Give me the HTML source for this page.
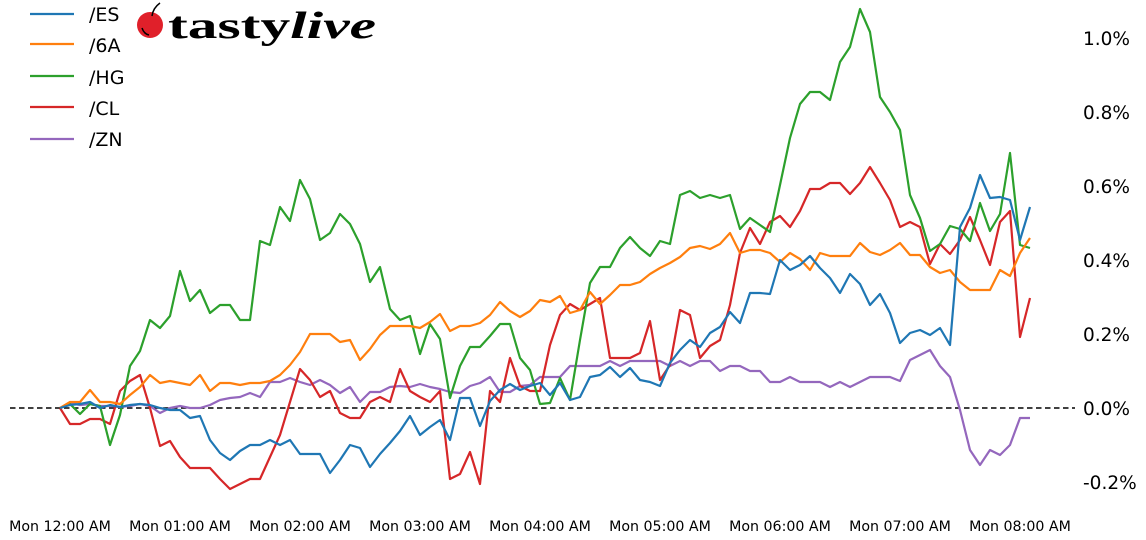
<!DOCTYPE html>
<html><head><meta charset="utf-8"><style>
html,body{margin:0;padding:0;background:#fff;}
svg{display:block;font-family:"DejaVu Sans","Liberation Sans",sans-serif;}
</style></head><body>
<svg width="1146" height="540" viewBox="0 0 1146 540" xmlns="http://www.w3.org/2000/svg">
<rect width="1146" height="540" fill="#fff"/>
<line x1="10" y1="408" x2="1075" y2="408" stroke="#000" stroke-width="1.5" stroke-dasharray="5.5,3.5"/>
<g fill="none" stroke-width="2.2" stroke-linejoin="round">
<polyline stroke="#9467bd" points="60,408 70,403 80,405 90,404 100,406 110,406 120,407 130,406 140,404 150,406 160,413 170,408 180,406 190,408 200,408 210,405 220,400 230,398 240,397 250,393 260,397 270,382 280,382 290,378 300,382 310,385 320,380 330,385 340,393 350,387 360,402 370,392 380,392 390,387 400,386 410,387 420,384 430,387 440,389 450,392 460,393 470,386 480,383 490,377 500,392 510,392 520,386 530,385 540,377 550,377 560,377 570,366 580,366 590,366 600,366 610,361 620,366 630,361 640,361 650,361 660,361 670,366 680,361 690,366 700,361 710,361 720,371 730,366 740,366 750,371 760,371 770,382 780,382 790,377 800,382 810,382 820,382 830,387 840,382 850,387 860,382 870,377 880,377 890,377 900,381 910,360 920,355 930,350 940,366 950,377 960,410 970,450 980,465 990,450 1000,455 1010,445 1020,418 1030,418"/>
<polyline stroke="#d62728" points="60,408 70,424 80,424 90,419 100,419 110,424 120,391 130,381 140,375 150,408 160,446 170,441 180,457 190,468 200,468 210,468 220,479 230,489 240,484 250,479 260,479 270,457 280,435 290,402 300,369 310,380 320,397 330,391 340,413 350,418 360,418 370,402 380,397 390,402 400,369 410,391 420,397 430,402 440,391 450,479 460,474 470,452 480,484 490,391 500,402 510,358 520,386 530,391 540,391 550,345 560,315 570,304 580,310 590,304 600,298 610,358 620,358 630,358 640,353 650,321 660,380 670,365 680,310 690,315 700,358 710,346 720,340 730,305 740,253 750,228 760,244 770,222 780,216 790,227 800,211 810,189 820,189 830,183 840,183 850,194 860,183 870,167 880,183 890,200 900,227 910,222 920,227 930,264 940,244 950,254 960,240 970,217 980,240 990,265 1000,222 1010,211 1020,337 1030,298"/>
<polyline stroke="#2ca02c" points="60,408 70,404 80,414 90,404 100,406 110,445 120,415 130,366 140,351 150,320 160,328 170,316 180,271 190,301 200,290 210,313 220,305 230,305 240,320 250,320 260,241 270,245 280,207 290,221 300,180 310,199 320,240 330,233 340,214 350,224 360,244 370,282 380,267 390,309 400,320 410,316 420,354 430,324 440,339 450,398 460,366 470,347 480,347 490,336 500,324 510,324 520,358 530,370 540,404 550,403 560,378 570,400 580,340 590,283 600,267 610,267 620,248 630,237 640,248 650,256 660,241 670,244 680,195 690,191 700,198 710,195 720,198 730,195 740,229 750,218 760,225 770,232 780,185 790,138 800,104 810,92 820,92 830,100 840,62 850,47 860,9 870,32 880,97 890,112 900,130 910,195 920,218 930,251 940,244 950,226 960,229 970,241 980,203 990,231 1000,214 1010,153 1020,245 1030,248"/>
<polyline stroke="#ff7f0e" points="60,408 70,402 80,402 90,390 100,402 110,402 120,404 130,395 140,387 150,375 160,383 170,381 180,383 190,385 200,375 210,391 220,383 230,383 240,385 250,383 260,383 270,381 280,375 290,365 300,352 310,334 320,334 330,334 340,342 350,340 360,360 370,349 380,335 390,326 400,326 410,326 420,328 430,322 440,314 450,331 460,326 470,326 480,323 490,315 500,302 510,311 520,317 530,311 540,300 550,302 560,296 570,313 580,310 590,292 600,304 610,295 620,285 630,285 640,282 650,274 660,268 670,263 680,257 690,248 700,246 710,249 720,244 730,233 740,253 750,250 760,250 770,253 780,262 790,253 800,259 810,270 820,253 830,256 840,256 850,256 860,243 870,252 880,255 890,250 900,243 910,255 920,255 930,267 940,273 950,270 960,282 970,290 980,290 990,290 1000,270 1010,276 1020,253 1030,238"/>
<polyline stroke="#1f77b4" points="60,408 70,405 80,404 90,402 100,408 110,405 120,407 130,405 140,404 150,405 160,408 170,410 180,410 190,418 200,416 210,440 220,453 230,460 240,451 250,445 260,445 270,440 280,445 290,440 300,454 310,454 320,454 330,473 340,460 350,445 360,448 370,467 380,454 390,443 400,431 410,416 420,435 430,427 440,420 450,440 460,398 470,398 480,426 490,401 500,390 510,384 520,390 530,386 540,383 550,395 560,383 570,400 580,397 590,377 600,375 610,367 620,377 630,368 640,380 650,382 660,386 670,363 680,350 690,340 700,347 710,333 720,327 730,312 740,323 750,293 760,293 770,294 780,260 790,270 800,265 810,256 820,268 830,278 840,293 850,274 860,284 870,305 880,294 890,313 900,343 910,333 920,330 930,335 940,328 950,345 960,227 970,208 980,175 990,198 1000,197 1010,200 1020,240 1030,207"/>
</g>
<g font-size="18.5" fill="#000">
<text x="1083" y="45">1.0%</text>
<text x="1083" y="119">0.8%</text>
<text x="1083" y="193">0.6%</text>
<text x="1083" y="267">0.4%</text>
<text x="1083" y="341">0.2%</text>
<text x="1083" y="415">0.0%</text>
<text x="1083" y="489">-0.2%</text>
</g>
<g font-size="14.2" fill="#000" text-anchor="middle">
<text x="60" y="531">Mon 12:00 AM</text>
<text x="180" y="531">Mon 01:00 AM</text>
<text x="300" y="531">Mon 02:00 AM</text>
<text x="420" y="531">Mon 03:00 AM</text>
<text x="540" y="531">Mon 04:00 AM</text>
<text x="660" y="531">Mon 05:00 AM</text>
<text x="780" y="531">Mon 06:00 AM</text>
<text x="900" y="531">Mon 07:00 AM</text>
<text x="1020" y="531">Mon 08:00 AM</text>
</g>
<g stroke-width="2.2">
<line x1="30" y1="14" x2="74" y2="14" stroke="#1f77b4"/>
<line x1="30" y1="44" x2="74" y2="44" stroke="#ff7f0e"/>
<line x1="30" y1="76" x2="74" y2="76" stroke="#2ca02c"/>
<line x1="30" y1="107" x2="74" y2="107" stroke="#d62728"/>
<line x1="30" y1="139" x2="74" y2="139" stroke="#9467bd"/>
</g>
<g font-size="19" fill="#000">
<text x="89" y="21">/ES</text>
<text x="89" y="52">/6A</text>
<text x="89" y="84">/HG</text>
<text x="89" y="115">/CL</text>
<text x="89" y="146">/ZN</text>
</g>
<circle cx="150" cy="25" r="13" fill="#e0202a"/>
<path d="M152,16 Q153,8 160,3" stroke="#000" stroke-width="1.5" fill="none"/>
<path d="M142,28 Q144,34 149,35" stroke="#000" stroke-width="1.5" fill="none"/>
<text x="168" y="38" font-family="Liberation Serif, serif" font-weight="bold" font-size="38" fill="#000" textLength="208" lengthAdjust="spacingAndGlyphs">tasty<tspan font-style="italic">live</tspan></text>
</svg>
</body></html>
